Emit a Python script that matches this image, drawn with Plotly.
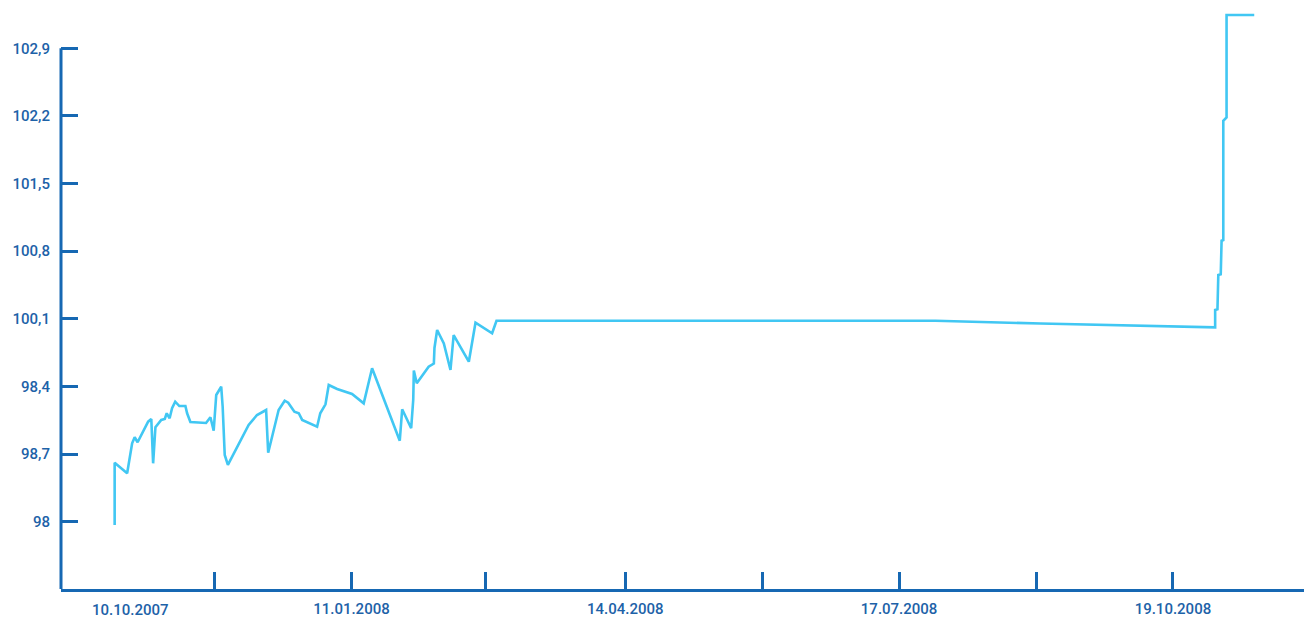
import plotly.graph_objects as go

# ---- data ----
dates = [
    "2007-10-21 17:00", "2007-10-21 17:00", "2007-10-26 00:00", "2007-10-27 17:00",
    "2007-10-28 14:00", "2007-10-29 14:00", "2007-11-02 05:00", "2007-11-03 07:00",
    "2007-11-03 22:00", "2007-11-04 17:00", "2007-11-06 17:00", "2007-11-07 22:00",
    "2007-11-08 14:00", "2007-11-09 14:00", "2007-11-10 10:00", "2007-11-11 12:00",
    "2007-11-12 22:00", "2007-11-15 00:00", "2007-11-15 14:00", "2007-11-16 17:00",
    "2007-11-22 02:00", "2007-11-23 14:00", "2007-11-24 17:00", "2007-11-25 14:00",
    "2007-11-27 07:00", "2007-11-27 19:00", "2007-11-28 12:00", "2007-11-29 14:00",
    "2007-12-06 17:00", "2007-12-09 14:00", "2007-12-12 17:00", "2007-12-13 10:00",
    "2007-12-17 00:00", "2007-12-19 02:00", "2007-12-20 07:00", "2007-12-22 10:00",
    "2007-12-23 22:00", "2007-12-25 02:00", "2007-12-30 05:00", "2007-12-31 07:00",
    "2008-01-02 02:00", "2008-01-03 05:00", "2008-01-06 02:00", "2008-01-11 05:00",
    "2008-01-15 05:00", "2008-01-16 22:00", "2008-01-18 02:00", "2008-01-27 14:00",
    "2008-01-28 10:00", "2008-01-31 12:00", "2008-02-01 05:00", "2008-02-01 10:00",
    "2008-02-02 10:00", "2008-02-06 12:00", "2008-02-08 07:00", "2008-02-08 12:00",
    "2008-02-09 10:00", "2008-02-11 17:00", "2008-02-14 00:00", "2008-02-15 02:00",
    "2008-02-20 07:00", "2008-02-22 14:00", "2008-02-28 07:00", "2008-02-29 19:00",
    "2008-07-29 12:00", "2008-09-03 14:00", "2008-11-02 12:00", "2008-11-02 12:00",
    "2008-11-03 07:00", "2008-11-03 14:00", "2008-11-04 10:00", "2008-11-04 17:00",
    "2008-11-05 07:00", "2008-11-05 07:00", "2008-11-06 10:00", "2008-11-06 10:00",
    "2008-11-15 22:00",
]
prices = [
    97.966, 98.611, 98.501, 98.811,
    98.874, 98.822, 99.035, 99.063,
    98.604, 98.977, 99.053, 99.063,
    99.122, 99.070, 99.174, 99.242,
    99.197, 99.197, 99.122, 99.032,
    99.021, 99.081, 98.942, 99.311,
    99.397, 99.190, 98.690, 98.587,
    99.001, 99.104, 99.156, 98.714,
    99.156, 99.252, 99.232, 99.138,
    99.122, 99.053, 98.983, 99.122,
    99.215, 99.415, 99.373, 99.322,
    99.225, 99.432, 99.588, 98.838,
    99.163, 98.967, 99.260, 99.565,
    99.432, 99.604, 99.637, 99.798,
    99.984, 99.846, 99.570, 99.932,
    99.656, 100.060, 99.950, 100.080,
    100.080, 100.051, 100.012, 100.191,
    100.198, 100.553, 100.560, 100.908,
    100.915, 102.150, 102.185, 103.244,
    103.244,
]

y_tickvals = [98.0, 98.7, 99.4, 100.1, 100.8, 101.5, 102.2, 102.9]
y_ticktext = ["98", "98,7", "98,4", "100,1", "100,8", "101,5", "102,2", "102,9"]

x_tickvals = ["2007-11-25", "2008-01-11", "2008-02-26", "2008-04-14",
              "2008-05-31", "2008-07-17", "2008-09-02", "2008-10-19"]
x_ticktext = ["", "11.01.2008", "", "14.04.2008", "", "17.07.2008", "", "19.10.2008"]
first_label = "10.10.2007"
first_label_pos = "2007-10-27 02:00"

x_range = ["2007-10-03 07:00", "2008-12-03 00:00"]
y_range = [97.303, 103.40]

AXIS = "#1668b3"
TEXT = "#1d62a8"
LINE = "#41c7f3"
FONT = dict(family="Roboto", size=15, color=TEXT, weight=500)

fig = go.Figure()
fig.add_trace(go.Scatter(x=dates, y=prices, mode="lines",
                         line=dict(color=LINE, width=2.6), hoverinfo="x+y"))

fig.update_layout(
    width=1304, height=618,
    margin=dict(l=61, r=0, t=0, b=29),
    paper_bgcolor="white", plot_bgcolor="white",
    showlegend=False,
    xaxis=dict(
        type="date", range=x_range, tickmode="array",
        tickvals=x_tickvals, ticktext=x_ticktext,
        ticks="inside", ticklen=17, tickwidth=3, tickcolor=AXIS,
        showline=True, linecolor=AXIS, linewidth=3,
        showgrid=False, zeroline=False, tickfont=FONT,
        ticklabelstandoff=4, automargin=False,
    ),
    yaxis=dict(
        range=y_range, tickmode="array",
        tickvals=y_tickvals, ticktext=y_ticktext,
        ticks="inside", ticklen=17, tickwidth=3, tickcolor=AXIS,
        showline=False, showgrid=False, zeroline=False, tickfont=FONT,
        ticklabelstandoff=10, automargin=False,
    ),
)

# y-axis line that stops at the top tick
fig.add_shape(type="line", xref="paper", yref="y",
              x0=0, x1=0, y0=y_range[0], y1=y_tickvals[-1],
              line=dict(color=AXIS, width=3))

fig.add_annotation(x=first_label_pos, y=0, xref="x", yref="paper",
                   text=first_label, showarrow=False, yanchor="top",
                   yshift=-10, font=FONT)

fig.write_html("out.html",
               config={"displayModeBar": False},
               post_script="document.body.style.margin='0px';"
                           "document.body.style.overflow='hidden';")
